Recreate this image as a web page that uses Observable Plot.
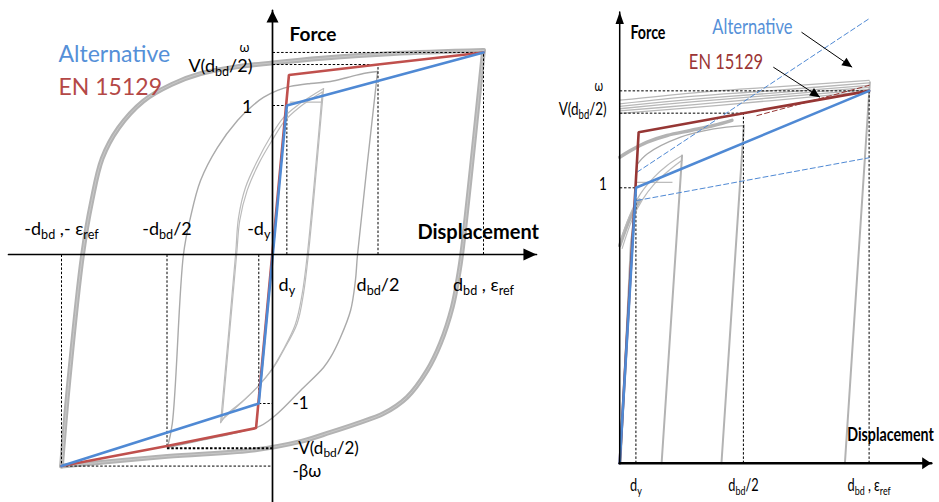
<!DOCTYPE html>
<html>
<head>
<meta charset="utf-8">
<script src="https://cdn.jsdelivr.net/npm/d3@7"></script>
<script src="https://cdn.jsdelivr.net/npm/@observablehq/plot@0.6"></script>
<style>
html,body{margin:0;padding:0;background:#fff;}
#wrap{position:relative;width:939px;height:502px;overflow:hidden;background:#fff;}
#left,#right{position:absolute;top:0;}
#left{left:0;width:560px;height:502px;}
#right{left:580px;width:359px;height:502px;}
#wrap svg{overflow:visible;background:transparent;}
</style>
</head>
<body>
<div id="wrap"><div id="left"></div><div id="right"></div></div>
<script>
const X = d => d[0], Y = d => d[1];
const FONT = "Lato, 'Noto Sans', 'DejaVu Sans', sans-serif";

// ================= LEFT PANEL (x = displacement / d_bd, y = force / yield force) =================
const L_dbd = 1, L_dbdHalf = 0.5, L_dy = 0.068, L_dyNeg = -0.065;
const L_omega = 1.356, L_vHalf = 1.275, L_negOne = -1, L_negV = -1.30, L_negBetaOmega = -1.42;

// hysteresis loops
const L_largeUp = [[-1,-1.42],[-0.965,-0.846],[-0.90,0],[-0.857,0.355],[-0.807,0.645],[-0.73,0.849],[-0.612,1.03],[-0.477,1.142],[-0.341,1.214],[-0.172,1.259],[0,1.286],[0.233,1.317],[0.573,1.349],[1.0,1.37]];
const L_largeDown = [[1.0,1.37],[0.899,0.027],[0.883,-0.128],[0.852,-0.354],[0.796,-0.597],[0.733,-0.779],[0.638,-0.958],[0.527,-1.067],[0.401,-1.134],[0.275,-1.193],[0.133,-1.255],[-0.104,-1.315],[-0.499,-1.355],[-1.0,-1.42]];
const L_mediumUp = [[-0.498,-1.295],[-0.475,-1.136],[-0.422,0],[-0.389,0.248],[-0.341,0.497],[-0.261,0.718],[-0.166,0.899],[-0.104,0.987],[-0.043,1.054],[0.024,1.101],[0.085,1.128],[0.18,1.148],[0.275,1.161],[0.355,1.188],[0.431,1.215],[0.498,1.228]];
const L_mediumDown = [[0.498,1.228],[0.403,0],[0.393,-0.174],[0.37,-0.376],[0.322,-0.557],[0.275,-0.691],[0.242,-0.758],[0.133,-0.913],[0.024,-1.067],[-0.057,-1.15],[-0.2,-1.205],[-0.35,-1.25],[-0.498,-1.295]];
const L_smallUp = [[-0.246,-1.128],[-0.175,0],[-0.161,0.248],[-0.128,0.45],[-0.071,0.631],[-0.009,0.792],[0.052,0.919],[0.118,1.0],[0.18,1.06],[0.242,1.114]];
const L_smallUp2 = [[-0.24,-1.11],[-0.17,0],[-0.155,0.23],[-0.12,0.43],[-0.065,0.61],[0,0.77],[0.06,0.9],[0.125,0.985],[0.185,1.045],[0.236,1.09]];
const L_smallDown = [[0.242,1.114],[0.17,0],[0.147,-0.262],[0.117,-0.463],[0.052,-0.644],[0.005,-0.758],[-0.057,-0.866],[-0.137,-0.98],[-0.213,-1.067],[-0.246,-1.128]];
const L_smallDown2 = [[0.236,1.09],[0.165,0],[0.14,-0.27],[0.108,-0.47],[0.045,-0.655],[-0.003,-0.77],[-0.065,-0.88],[-0.145,-0.99],[-0.215,-1.08],[-0.24,-1.11]];
const L_smallFlat = [[0.085,1.022],[0.236,1.022]];

// bilinear models
const L_en15129 = [[-1,L_negBetaOmega],[-0.5,-1.285],[-0.078,-1.165],[0.078,1.205],[L_dbdHalf,L_vHalf],[L_dbd,L_omega]];
const L_alternative = [[-1,L_negBetaOmega],[L_dyNeg,L_negOne],[L_dy,1],[L_dbd,L_omega]];

// dotted guide lines [x1, y1, x2, y2]
const L_guides = [
  [0,L_omega,L_dbd,L_omega],[0,L_vHalf,L_dbdHalf,L_vHalf],[L_dbd,0,L_dbd,L_omega],[L_dbdHalf,0,L_dbdHalf,L_vHalf],
  [L_dy,0,L_dy,1],[0,1,L_dy,1],[-1,0,-1,L_negBetaOmega],[-1,L_negBetaOmega,0,L_negBetaOmega],
  [-0.5,0,-0.5,L_negV],[L_dyNeg,0,L_dyNeg,L_negOne],[L_dyNeg,L_negOne,0,L_negOne]
];
const L_guidesBold = [[-0.5,L_negV,0,L_negV]];

// axes extents and tick labels
const L_xAxis = [[-1.251,0],[1.251,0]];
const L_yAxis = [[0,-1.67],[0,1.638]];
const L_xTicksNeg = [-1, -0.5, L_dyNeg];
const L_xLabelsNeg = ["-d_{bd} ,- ε_{ref}", "-d_{bd}/2", "-d_{y}"];
const L_xTicksPos = [L_dy, 0.5, 1];
const L_xLabelsPos = ["d_{y}", "d_{bd}/2", "d_{bd} , ε_{ref}"];
const L_yTicksLeft = [1, L_vHalf];
const L_yLabelsLeft = ["1", "V(d_{bd}/2)"];
const L_yTicksRight = [L_negOne, L_negV];
const L_yLabelsRight = ["-1", "-V(d_{bd}/2)"];
const L_yTickBottom = [L_negBetaOmega];
const L_yLabelBottom = ["-βω"];

// ================= RIGHT PANEL (zoom on the positive branch) =================
const R_dy = 0.065, R_dbdHalf = 0.496, R_omega = 1.352, R_vHalf = 1.271;
const R_alternative = [[0,0],[R_dy,1],[1,R_omega]];
const R_en15129 = [[0,0],[0.076,1.202],[R_dbdHalf,R_vHalf],[1,R_omega]];
const R_altUpper = [[0.07,1.057],[1.0,1.614]];
const R_altLower = [[0.07,0.954],[1.0,1.109]];
const R_enDash = [[0.55,1.262],[1.0,1.372]];
const R_band = [
  [[0,1.318],[0.3,1.345],[0.6,1.365],[1.0,1.39]],
  [[0,1.305],[0.3,1.333],[0.6,1.352],[1.0,1.381]],
  [[0,1.296],[0.3,1.322],[0.6,1.343],[1.0,1.372]],
  [[0,1.287],[0.3,1.313],[0.6,1.335],[1.0,1.365]],
  [[0,1.279],[0.3,1.302],[0.6,1.326],[1.0,1.357]],
  [[0,1.270],[0.3,1.292],[0.6,1.316],[1.0,1.35]]
];
const R_thickUpper = [[0,1.111],[0.043,1.135],[0.11,1.166],[0.19,1.19],[0.284,1.208],[0.376,1.226],[0.45,1.245]];
const R_thickLower = [[0,0.79],[0.043,0.893],[0.08,0.955]];
const R_mediumUp = [[0.07,1.085],[0.11,1.123],[0.244,1.184],[0.377,1.214],[0.498,1.226]];
const R_mediumUnload = [[0.498,1.226],[0.408,0]];
const R_small1 = [[0.003,0.808],[0.043,0.906],[0.083,0.978],[0.137,1.038],[0.19,1.081],[0.25,1.117]];
const R_small2 = [[0.01,0.78],[0.05,0.885],[0.09,0.955],[0.14,1.015],[0.2,1.065],[0.25,1.1]];
const R_smallUnload = [[0.25,1.117],[0.168,0]];
const R_smallFlat = [[0.07,1.02],[0.21,1.02]];
const R_largeUnload = [[1.003,1.383],[0.903,0]];
const R_virgin = [[0.003,0],[0.045,0.8],[0.06,0.9]];
const R_guides = [
  [0,R_omega,1,R_omega],[0,R_vHalf,R_dbdHalf,R_vHalf],[0,1,R_dy,1],
  [R_dy,0,R_dy,1],[R_dbdHalf,0,R_dbdHalf,R_vHalf],[1,0,1,R_omega]
];
const R_xAxis = [[0,0],[1.249,0]];
const R_yAxis = [[0,0],[0,1.638]];
const R_xTicks = [R_dy, R_dbdHalf, 1];
const R_xLabels = ["d_{y}", "d_{bd}/2", "d_{bd} , ε_{ref}"];
const R_yTicks = [1, R_vHalf];
const R_yLabels = ["1", "V(d_{bd}/2)"];

// ---------- helpers ----------
const tri = (len, half, deg) => ({
  draw(ctx) {
    const a = deg * Math.PI / 180, c = Math.cos(a), s = Math.sin(a);
    const bx = -len * c, by = -len * s, px = -s * half, py = c * half;
    ctx.moveTo(0, 0); ctx.lineTo(bx + px, by + py); ctx.lineTo(bx - px, by - py); ctx.closePath();
  }
});
const seg = a => a.map(([x1,y1,x2,y2]) => ({x1,y1,x2,y2}));
const pair = (vals, labels) => vals.map((v, i) => ({v, t: labels[i]}));

function tex(svg) {
  d3.select(svg).selectAll("text").each(function () {
    const el = d3.select(this);
    const s = el.text();
    if (!s.includes("_{")) return;
    el.text(null);
    let down = false;
    for (const part of s.split(/(_\{[^}]*\})/)) {
      if (!part) continue;
      if (part.startsWith("_{")) {
        const t = el.append("tspan").attr("font-size", "70%").text(part.slice(2, -1));
        if (!down) t.attr("dy", "0.32em");
        down = true;
      } else {
        const t = el.append("tspan").text(part);
        if (down) { t.attr("dy", "-0.224em"); down = false; }
      }
    }
  });
}
function condense(svg, sx) {
  d3.select(svg).selectAll("text").each(function () {
    const x = this.getAttribute("x"), y = this.getAttribute("y");
    let tr = this.getAttribute("transform") || "";
    if (x !== null || y !== null) {
      tr += ` translate(${+x || 0},${+y || 0})`;
      this.removeAttribute("x"); this.removeAttribute("y");
    }
    this.setAttribute("transform", tr + ` scale(${sx},1)`);
  });
}

const GRAY = "#b3b3b3", GRAY_T = "#aaaaaa";
const BLUE = "#4f89d4", RED_L = "#c0504d", RED_R = "#963634";

// ---------- LEFT ----------
const lineOpts = (o) => Object.assign({x: X, y: Y}, o);
const left = Plot.plot({
  width: 560, height: 502, margin: 0,
  x: {domain: [-1, 1], range: [61, 483], axis: null},
  y: {domain: [-1, 1], range: [403, 105], axis: null},
  style: {background: "transparent", overflow: "visible"},
  marks: [
    Plot.line(L_largeUp, lineOpts({stroke: GRAY, strokeWidth: 4.8, curve: "catmull-rom"})),
    Plot.line(L_largeDown, lineOpts({stroke: GRAY, strokeWidth: 4.8, curve: "catmull-rom"})),
    Plot.line(L_largeUp, lineOpts({stroke: "#c8c8c8", strokeWidth: 1, curve: "catmull-rom"})),
    Plot.line(L_largeDown, lineOpts({stroke: "#c8c8c8", strokeWidth: 1, curve: "catmull-rom"})),
    Plot.line(L_mediumUp, lineOpts({stroke: GRAY_T, strokeWidth: 1.4, curve: "catmull-rom"})),
    Plot.line(L_mediumDown, lineOpts({stroke: GRAY_T, strokeWidth: 1.4, curve: "catmull-rom"})),
    Plot.line(L_smallUp, lineOpts({stroke: "#bbbbbb", strokeWidth: 1.2, curve: "catmull-rom"})),
    Plot.line(L_smallUp2, lineOpts({stroke: "#bbbbbb", strokeWidth: 1.2, curve: "catmull-rom"})),
    Plot.line(L_smallDown, lineOpts({stroke: "#bbbbbb", strokeWidth: 1.2, curve: "catmull-rom"})),
    Plot.line(L_smallDown2, lineOpts({stroke: "#bbbbbb", strokeWidth: 1.2, curve: "catmull-rom"})),
    Plot.line(L_smallFlat, lineOpts({stroke: "#bbbbbb", strokeWidth: 1.2})),
    Plot.link(seg(L_guides), {x1: "x1", y1: "y1", x2: "x2", y2: "y2", stroke: "#000", strokeWidth: 1, strokeDasharray: "2.5,1.8"}),
    Plot.link(seg(L_guidesBold), {x1: "x1", y1: "y1", x2: "x2", y2: "y2", stroke: "#000", strokeWidth: 2, strokeDasharray: "2.5,1.8"}),
    Plot.line(L_en15129, lineOpts({stroke: RED_L, strokeWidth: 2.6, strokeLinejoin: "miter"})),
    Plot.line(L_alternative, lineOpts({stroke: BLUE, strokeWidth: 2.6, strokeLinejoin: "miter"})),
    Plot.line(L_xAxis, lineOpts({stroke: "#000", strokeWidth: 1.7})),
    Plot.line(L_yAxis, lineOpts({stroke: "#000", strokeWidth: 1.7})),
    Plot.dot([L_xAxis[1]], {x: X, y: Y, r: 5, symbol: tri(13, 6, 0), fill: "#000", stroke: "none"}),
    Plot.dot([L_yAxis[1]], {x: X, y: Y, r: 5, symbol: tri(12, 6, -90), fill: "#000", stroke: "none"}),
    // tick labels
    Plot.text(pair(L_xTicksNeg, L_xLabelsNeg), {x: "v", y: 0, text: "t", dy: -25, fontSize: 18, fontFamily: FONT, fill: "#000", ariaLabel: "tex"}),
    Plot.text(pair(L_xTicksPos, L_xLabelsPos), {x: "v", y: 0, text: "t", dy: 31, fontSize: 18, fontFamily: FONT, fill: "#000", ariaLabel: "tex"}),
    Plot.text(pair(L_yTicksLeft, L_yLabelsLeft), {x: 0, y: "v", text: "t", dx: -20, dy: 2, textAnchor: "end", fontSize: 18, fontFamily: FONT, fill: "#000", ariaLabel: "tex"}),
    Plot.text(["ω"], {x: 0, y: L_omega, text: d => d, dx: -28, dy: -5, fontSize: 13, fontFamily: FONT, fill: "#000"}),
    Plot.text(pair(L_yTicksRight, L_yLabelsRight), {x: 0, y: "v", text: "t", dx: 20, dy: 0, textAnchor: "start", fontSize: 17, fontFamily: FONT, fill: "#000", ariaLabel: "tex"}),
    Plot.text(pair(L_yTickBottom, L_yLabelBottom), {x: 0, y: "v", text: "t", dx: 20, dy: 5, textAnchor: "start", fontSize: 17, fontFamily: FONT, fill: "#000"}),
    // titles / legend
    Plot.text(["Force"], {x: 0.081, y: 1.473, text: d => d, textAnchor: "start", fontSize: 19, fontWeight: "bold", fontFamily: FONT, fill: "#000"}),
    Plot.text(["Displacement"], {x: 0.687, y: 0.148, text: d => d, textAnchor: "start", fontSize: 20, fontWeight: "bold", fontFamily: FONT, fill: "#000"}),
    Plot.text(["Alternative"], {x: -1.014, y: 1.342, text: d => d, textAnchor: "start", fontSize: 23, fontFamily: FONT, fill: "#5590d8"}),
    Plot.text(["EN 15129"], {x: -1.014, y: 1.117, text: d => d, textAnchor: "start", fontSize: 23, fontFamily: FONT, fill: "#b44846"})
  ]
});
tex(left);
document.getElementById("left").appendChild(left);

// ---------- RIGHT ----------
const right = Plot.plot({
  width: 359, height: 502, margin: 0,
  x: {domain: [0, 1], range: [39.2, 288.6], axis: null},
  y: {domain: [0, 1], range: [462.7, 187.3], axis: null},
  style: {background: "transparent", overflow: "visible"},
  marks: [
    ...R_band.map(b => Plot.line(b, lineOpts({stroke: "#b8b8b8", strokeWidth: 1.3, curve: "catmull-rom"}))),
    Plot.line(R_thickUpper, lineOpts({stroke: GRAY, strokeWidth: 3.5, curve: "catmull-rom"})),
    Plot.line(R_thickLower, lineOpts({stroke: GRAY, strokeWidth: 3.5, curve: "catmull-rom"})),
    Plot.line(R_mediumUp, lineOpts({stroke: GRAY_T, strokeWidth: 1.3, curve: "catmull-rom"})),
    Plot.line(R_mediumUnload, lineOpts({stroke: GRAY, strokeWidth: 2})),
    Plot.line(R_small1, lineOpts({stroke: "#bbbbbb", strokeWidth: 1.2, curve: "catmull-rom"})),
    Plot.line(R_small2, lineOpts({stroke: "#bbbbbb", strokeWidth: 1.2, curve: "catmull-rom"})),
    Plot.line(R_smallUnload, lineOpts({stroke: GRAY, strokeWidth: 2})),
    Plot.line(R_smallFlat, lineOpts({stroke: "#aaaaaa", strokeWidth: 1})),
    Plot.line(R_largeUnload, lineOpts({stroke: GRAY, strokeWidth: 2})),
    Plot.line(R_virgin, lineOpts({stroke: GRAY, strokeWidth: 2})),
    Plot.link(seg(R_guides), {x1: "x1", y1: "y1", x2: "x2", y2: "y2", stroke: "#000", strokeWidth: 1, strokeDasharray: "2.5,1.8"}),
    Plot.line(R_altUpper, lineOpts({stroke: BLUE, strokeWidth: 1, strokeDasharray: "5,3"})),
    Plot.line(R_altLower, lineOpts({stroke: BLUE, strokeWidth: 1, strokeDasharray: "5,3"})),
    Plot.line(R_enDash, lineOpts({stroke: RED_R, strokeWidth: 1, strokeDasharray: "5,3"})),
    Plot.line(R_en15129, lineOpts({stroke: RED_R, strokeWidth: 2.6, strokeLinejoin: "miter"})),
    Plot.line(R_alternative, lineOpts({stroke: BLUE, strokeWidth: 2.6, strokeLinejoin: "miter"})),
    Plot.line(R_xAxis, lineOpts({stroke: "#000", strokeWidth: 2.6})),
    Plot.line(R_yAxis, lineOpts({stroke: "#000", strokeWidth: 1.5})),
    Plot.dot([R_xAxis[1]], {x: X, y: Y, r: 5, symbol: tri(9, 6, 0), fill: "#000", stroke: "none"}),
    Plot.dot([R_yAxis[1]], {x: X, y: Y, r: 5, symbol: tri(12, 4.2, -90), fill: "#000", stroke: "none"}),
    // annotation arrows
    Plot.link([{x1: 0.729, y1: 1.565, x2: 0.932, y2: 1.438}], {x1: "x1", y1: "y1", x2: "x2", y2: "y2", stroke: "#000", strokeWidth: 1}),
    Plot.dot([[0.932, 1.438]], {x: X, y: Y, r: 5, symbol: tri(10, 4.5, 34.7), fill: "#000", stroke: "none"}),
    Plot.link([{x1: 0.616, y1: 1.438, x2: 0.803, y2: 1.329}], {x1: "x1", y1: "y1", x2: "x2", y2: "y2", stroke: "#000", strokeWidth: 1}),
    Plot.dot([[0.803, 1.329]], {x: X, y: Y, r: 5, symbol: tri(10, 4.5, 32.8), fill: "#000", stroke: "none"}),
    // tick labels
    Plot.text(pair(R_xTicks, R_xLabels), {x: "v", y: 0, text: "t", dy: 28, fontSize: 17, fontFamily: FONT, fill: "#000", ariaLabel: "tex"}),
    Plot.text(pair(R_yTicks, R_yLabels), {x: 0, y: "v", text: "t", dx: -13, dy: 2, textAnchor: "end", fontSize: 18, fontFamily: FONT, fill: "#000", ariaLabel: "tex"}),
    Plot.text(["ω"], {x: 0, y: R_omega, text: d => d, dx: -21, dy: 0, fontSize: 15, fontFamily: FONT, fill: "#000"}),
    // titles / legend
    Plot.text(["Force"], {x: 0.043, y: 1.542, text: d => d, textAnchor: "start", fontSize: 19, fontWeight: "bold", fontFamily: FONT, fill: "#000"}),
    Plot.text(["Displacement"], {x: 1.086, y: 0.082, text: d => d, fontSize: 19, fontWeight: "bold", fontFamily: FONT, fill: "#000"}),
    Plot.text(["Alternative"], {x: 0.532, y: 1.56, text: d => d, fontSize: 22, fontFamily: FONT, fill: "#5590d8"}),
    Plot.text(["EN 15129"], {x: 0.426, y: 1.433, text: d => d, fontSize: 22, fontFamily: FONT, fill: "#9b3535"})
  ]
});
tex(right);
condense(right, 0.75);
document.getElementById("right").appendChild(right);
</script>
</body>
</html>
